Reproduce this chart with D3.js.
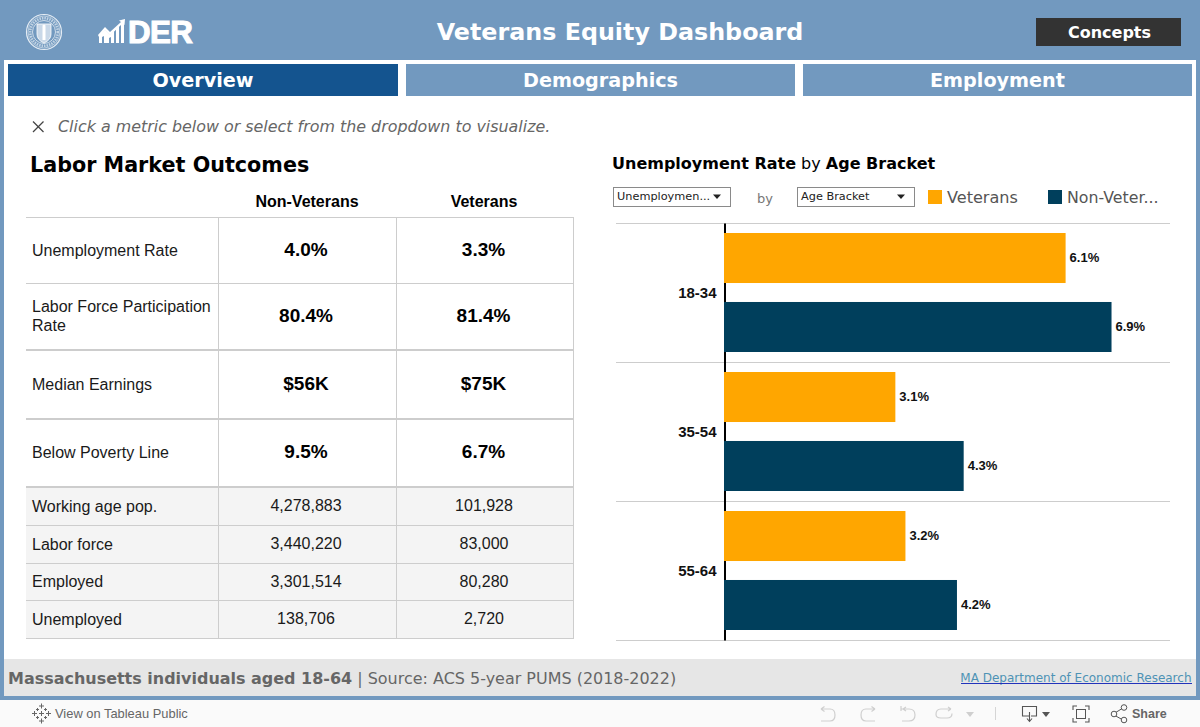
<!DOCTYPE html>
<html><head><meta charset="utf-8">
<script src="https://cdn.jsdelivr.net/npm/d3@7/dist/d3.min.js"></script>
<style>html,body{margin:0;padding:0;background:#fff;overflow:hidden}svg{display:block}</style>
</head><body><svg id="c" width="1200" height="727"></svg>
<script>
const ageBrackets=["18-34","35-54","55-64"];
const seriesNames=["Veterans","Non-Veterans"];
const veteranRates=[6.1,3.06,3.24];
const nonVeteranRates=[6.92,4.28,4.16];
const primaryMetrics=[["Unemployment Rate"],["Labor Force Participation","Rate"],["Median Earnings"],["Below Poverty Line"]];
const primaryNonVet=["4.0%","80.4%","$56K","9.5%"];
const primaryVet=["3.3%","81.4%","$75K","6.7%"];
const countMetrics=["Working age pop.","Labor force","Employed","Unemployed"];
const countNonVet=["4,278,883","3,440,220","3,301,514","138,706"];
const countVet=["101,928","83,000","80,280","2,720"];
const tabNames=["Overview","Demographics","Employment"];

const DV="'DejaVu Sans',sans-serif", LS="'Liberation Sans',Arial,sans-serif";
const BLUE="#7299BF", NAVY="#14548F", GOLD="#FFA600", TEAL="#003F5C";
const svg=d3.select("#c");
function rect(p,x,y,w,h,f){return p.append("rect").attr("x",x).attr("y",y).attr("width",w).attr("height",h).attr("fill",f);}
function text(p,x,y,s,size,o={}){return p.append("text").attr("x",x).attr("y",y).text(s)
 .attr("font-family",o.font||DV).attr("font-size",size).attr("font-weight",o.weight||"normal")
 .attr("font-style",o.style||"normal").attr("fill",o.fill||"#000").attr("text-anchor",o.anchor||"start")
 .attr("letter-spacing",o.ls||null);}
function line(p,x1,y1,x2,y2,c,w){return p.append("line").attr("x1",x1).attr("y1",y1).attr("x2",x2).attr("y2",y2).attr("stroke",c).attr("stroke-width",w||1);}

// frame
rect(svg,0,0,1200,727,BLUE);
rect(svg,4,60,1192,636,"#fff");
rect(svg,4,659,1192,37,"#E6E6E6");
rect(svg,0,700,1200,27,"#FAFAFA");

// header: seal
const seal=svg.append("g").attr("transform","translate(44,32)").attr("fill","none").attr("stroke","#E4ECF4");
seal.append("circle").attr("r",17.5).attr("stroke-width",1.2);
seal.append("circle").attr("r",16).attr("stroke-width",.6);
seal.append("circle").attr("r",11.5).attr("stroke-width",.8);
seal.append("circle").attr("r",13.8).attr("stroke-width",2.6).attr("stroke-dasharray","1.5 1").attr("stroke-opacity",.7);
seal.append("path").attr("d","M-7,-8 H7 V2 Q7,8 0,11 Q-7,8 -7,2 Z").attr("fill","#C9D8E8").attr("stroke","#fff").attr("stroke-width",.8);
seal.append("path").attr("d","M-1.5,-5 H1.5 V8 H-1.5 Z").attr("fill","#fff").attr("stroke","none");
seal.append("circle").attr("cy",-6).attr("r",1.6).attr("fill","#fff").attr("stroke","none");

// header: DER logo
const logo=svg.append("g").attr("fill","#fff");
logo.append("path").attr("d","M99,43 V36 L105,30 L110,35 L114,31 V43 H111 V37 L109,38 V43 H104 V36 L102,37 V43 Z M116,43 V29 L119,26 V43 Z M121,43 V24 L124,21 V43 Z");
logo.append("path").attr("d","M98,35 L105,27 L110,32 L121,22 L119,20.5 L125,19 L124.5,25 L122.5,23.5 L110,35.5 L105,30.5 L99,37 Z");
text(logo,128,43,"DER",31.3,{font:LS,weight:"bold",fill:"#fff",ls:"-0.6"}).attr("stroke","#fff").attr("stroke-width",1.1);

text(svg,620,40,"Veterans Equity Dashboard",23.8,{weight:"bold",fill:"#fff",anchor:"middle"});
rect(svg,1036,18,145,28,"#333333");
text(svg,1109.5,37.5,"Concepts",16,{weight:"bold",fill:"#fff",anchor:"middle"});

// tabs
const tabX=d3.scaleOrdinal().domain(tabNames).range([[8,390],[406,389],[803,389]]);
const tabs=svg.append("g").selectAll("g").data(tabNames).join("g");
tabs.append("rect").attr("x",d=>tabX(d)[0]).attr("y",64).attr("width",d=>tabX(d)[1]).attr("height",32)
 .attr("fill",(d,i)=>i==0?NAVY:BLUE);
tabs.append("text").attr("x",d=>tabX(d)[0]+tabX(d)[1]/2).attr("y",86.5).attr("text-anchor","middle")
 .attr("font-family",DV).attr("font-weight","bold").attr("font-size",19.2).attr("fill","#fff").text(d=>d);

// hint
line(svg,33,121.5,43.5,132,"#444",1.2);line(svg,43.5,121.5,33,132,"#444",1.2);
text(svg,58,132,"Click a metric below or select from the dropdown to visualize.",15.9,{style:"italic",fill:"#666"});

// left table
text(svg,30,172,"Labor Market Outcomes",20.7,{weight:"bold"});
const T=svg.append("g");
const rowEdges=[217,283,349.5,418.5,486.5,525,563,600,638];
const nonVetX=306,vetX=484;
rect(T,26,487,548,151.5,"#F4F4F4");
text(T,nonVetX+1,206.5,"Non-Veterans",16,{font:LS,weight:"bold",anchor:"middle"});
text(T,vetX,206.5,"Veterans",16,{font:LS,weight:"bold",anchor:"middle"});
rowEdges.forEach((y,i)=>line(T,26,y+.5,574,y+.5,"#CDCDCD",(i>=2&&i<=4)?2:1));
[218,396,573].forEach(x=>line(T,x+.5,217,x+.5,638.5,"#CDCDCD",1));
const topRows=T.append("g").selectAll("g").data(primaryMetrics).join("g")
 .attr("transform",(d,i)=>`translate(0,${Math.floor((rowEdges[i]+rowEdges[i+1])/2)})`);
topRows.each(function(d){
  const g=d3.select(this);
  d.forEach((s,j)=>text(g,32,(d.length==1?5.5:-4)+j*19,s,16,{font:LS,fill:"#1a1a1a"}));
});
topRows.append("text").attr("x",nonVetX).attr("y",5.5).attr("text-anchor","middle").attr("font-family",LS).attr("font-weight","bold").attr("font-size",19).text((d,i)=>primaryNonVet[i]);
topRows.append("text").attr("x",vetX-.5).attr("y",5.5).attr("text-anchor","middle").attr("font-family",LS).attr("font-weight","bold").attr("font-size",19).text((d,i)=>primaryVet[i]);
const lowRows=T.append("g").selectAll("g").data(countMetrics).join("g")
 .attr("transform",(d,i)=>`translate(0,${Math.ceil((rowEdges[i+4]+rowEdges[i+5])/2)})`);
lowRows.append("text").attr("x",32).attr("y",(d,i)=>i==2?5:5.5).attr("font-family",LS).attr("font-size",16).attr("fill","#1a1a1a").text(d=>d);
lowRows.append("text").attr("x",nonVetX).attr("y",5).attr("text-anchor","middle").attr("font-family",LS).attr("font-size",16).attr("fill","#1a1a1a").text((d,i)=>countNonVet[i]);
lowRows.append("text").attr("x",vetX).attr("y",5).attr("text-anchor","middle").attr("font-family",LS).attr("font-size",16).attr("fill","#1a1a1a").text((d,i)=>countVet[i]);

// right title
const title=text(svg,612,169,"",16,{weight:"bold"});
title.append("tspan").text("Unemployment Rate");
title.append("tspan").attr("font-weight","normal").text(" by ");
title.append("tspan").text("Age Bracket");

// dropdowns
function dropdown(x,w,label){
  rect(svg,x+.5,187.5,w,19,"#fff").attr("stroke","#8a8a8a");
  text(svg,x+4,200,label,11.3,{fill:"#222"});
  svg.append("path").attr("d",`M${x+w-17},194.5 h8 l-4,4.5 z`).attr("fill","#222");
}
dropdown(613,117,"Unemploymen...");
dropdown(797,117,"Age Bracket");
text(svg,757,203,"by",13,{fill:"#777"});

// legend
rect(svg,928,190,14,14,GOLD);
text(svg,947,203,"Veterans",16.1,{fill:"#555"});
rect(svg,1048,190,14,14,TEAL);
text(svg,1067,203,"Non-Veter...",15.8,{fill:"#555"});

// chart
const x=d3.scaleLinear().domain([0,1]).range([724,780]);
const y0=d3.scaleBand().domain(ageBrackets).range([223,640]);
const y1=d3.scaleBand().domain(seriesNames).range([0,y0.bandwidth()]).paddingInner(.275).paddingOuter(.145);
const color=d3.scaleOrdinal().domain(seriesNames).range([GOLD,TEAL]);
const rows=ageBrackets.map((a,i)=>({age:a,vals:[{s:"Veterans",v:veteranRates[i]},{s:"Non-Veterans",v:nonVeteranRates[i]}]}));

const seps=[...ageBrackets.map(a=>y0(a)),y0.range()[1]];
svg.append("g").selectAll("line").data(seps).join("line")
 .attr("x1",616).attr("x2",1170).attr("y1",d=>d+.5).attr("y2",d=>d+.5).attr("stroke","#CDCDCD");

const ax=svg.append("g").attr("transform",`translate(${x(0)+.5},0)`)
 .call(d3.axisLeft(y0).tickSize(0).tickPadding(8));
ax.select(".domain").attr("stroke","#000").attr("stroke-width",2);
ax.selectAll("text").attr("font-family",LS).attr("font-weight","bold").attr("font-size",15).attr("fill","#111").attr("dy","0.35em");

const grp=svg.append("g").selectAll("g").data(rows).join("g").attr("transform",d=>`translate(0,${y0(d.age)})`);
grp.selectAll("rect").data(d=>d.vals).join("rect")
 .attr("x",x(0)).attr("y",d=>y1(d.s)).attr("width",d=>x(d.v)-x(0)).attr("height",y1.bandwidth()).attr("fill",d=>color(d.s));
grp.selectAll("text").data(d=>d.vals).join("text")
 .attr("x",d=>x(d.v)+4).attr("y",d=>y1(d.s)+y1.bandwidth()/2+4)
 .attr("font-family",LS).attr("font-weight","bold").attr("font-size",13).attr("fill","#111")
 .text(d=>d3.format(".1f")(d.v)+"%");

// footer
const ft=text(svg,8,684,"",15.97,{fill:"#666"});
ft.append("tspan").attr("font-weight","bold").text("Massachusetts individuals aged 18-64");
ft.append("tspan").text(" | Source: ACS 5-year PUMS (2018-2022)");
text(svg,1191.5,682,"MA Department of Economic Research",12,{fill:"#4E93B5",anchor:"end"});
line(svg,961,683.5,1192,683.5,"#2233BB",1);

// toolbar
const tb=svg.append("g").attr("fill","none");
const star=tb.append("g").attr("transform","translate(41.5,713.5)").attr("stroke","#666").attr("stroke-width",1);
[[0,-7.5,2.5],[0,7.5,2.5],[-7,0,2.5],[7,0,2.5],[-4,-4,1.5],[4,-4,1.5],[-4,4,1.5],[4,4,1.5],[0,0,2.5]].forEach(([a,b,r])=>{
  line(star,a-r,b,a+r,b,"#666",1);line(star,a,b-r,a,b+r,"#666",1);
});
text(svg,55,718,"View on Tableau Public",12.9,{font:LS,fill:"#666"});
const fade="#CFCFCF";
tb.append("path").attr("d","M821,709 H830 Q835,709 835,715 Q835,721 830,721 H821 M821,709 l3.5,-2.5 M821,709 l3.5,2.5").attr("stroke",fade).attr("stroke-width",1.2);
tb.append("path").attr("d","M875,709 H866 Q861,709 861,715 Q861,721 866,721 H875 M875,709 l-3.5,-2.5 M875,709 l-3.5,2.5").attr("stroke",fade).attr("stroke-width",1.2);
tb.append("path").attr("d","M901,706 V711 M901,709 H909 Q915,709 915,715 Q915,721 909,721 H902 M903,709 l3,-2 M903,709 l3,2").attr("stroke",fade).attr("stroke-width",1.2);
tb.append("path").attr("d","M951,709 H941 Q936,709 936,714.5 Q936,718 941,718 H947 Q952,718 952,713.5 M951,709 l-3,-2 M951,709 l-3,2").attr("stroke",fade).attr("stroke-width",1.2);
tb.append("path").attr("d","M966,712 h8 l-4,5 z").attr("fill",fade);
line(tb,995.5,707,995.5,720,"#D5D5D5",1);
tb.append("path").attr("d","M1029,716 H1022.5 V706.5 H1036.5 V716 H1031 M1029.5,712 V721 M1027,718.5 l2.5,3 l2.5,-3").attr("stroke","#555").attr("stroke-width",1.1);
tb.append("path").attr("d","M1042,712 h8 l-4,5 z").attr("fill","#555");
tb.append("path").attr("d","M1073,710 V706 H1077 M1085,706 H1089 V710 M1089,718 V722 H1085 M1077,722 H1073 V718").attr("stroke","#555").attr("stroke-width",1.1);
tb.append("rect").attr("x",1076.5).attr("y",709.5).attr("width",9).attr("height",9).attr("stroke","#555");
tb.append("path").attr("d","M1114,713.5 L1123,708 M1114,715 L1123,720").attr("stroke","#555");
[[1114,714,2.8],[1124,707.5,2.8],[1124,720,2.8]].forEach(([a,b,r])=>tb.append("circle").attr("cx",a).attr("cy",b).attr("r",r).attr("stroke","#555").attr("fill","#FAFAFA"));
text(svg,1132,718,"Share",12.5,{font:LS,weight:"bold",fill:"#666"});
</script></body></html>
